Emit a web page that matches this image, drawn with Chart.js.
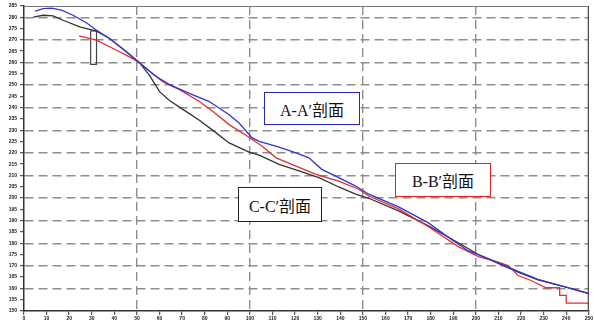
<!DOCTYPE html>
<html>
<head>
<meta charset="utf-8">
<script src="https://cdn.jsdelivr.net/npm/chart.js@4/dist/chart.umd.min.js"></script>
<style>
  html, body { margin: 0; padding: 0; background: #fff; }
  #wrap { position: relative; width: 594px; height: 324px; }
  .tag {
    position: absolute; box-sizing: border-box; background: #fff;
    font-family: "Liberation Serif", "Noto Sans CJK SC", serif;
    font-size: 16px; color: #111; display: flex; align-items: center; justify-content: center;
    white-space: nowrap;
  }
</style>
</head>
<body>
<div id="wrap">
  <canvas id="c" width="594" height="324"></canvas>
  <div class="tag" style="left:264px;top:92px;width:96px;height:33px;border:1.5px solid #2626c8;">A-A′剖面</div>
  <div class="tag" style="left:395px;top:163px;width:96px;height:34px;border:1.5px solid #e02424;">B-B′剖面</div>
  <div class="tag" style="left:238px;top:187px;width:84px;height:35px;border:1.5px solid #222;">C-C′剖面</div>
</div>
<script>
// Profile A-A′: distance along section and ground elevation
const aaDist = [4.9, 8.5, 12.2, 16.6, 21.7, 27.6, 32.1, 37.9, 45.3, 51.1, 57.8, 64.4, 73.2, 82.0, 90.8, 95.2, 101.0, 104.1, 112.9, 120.4, 126.1, 131.8, 139.3, 146.8, 152.6, 165.8, 179.0, 190.0, 196.6, 205.5, 218.7, 227.5, 240.7, 249.9];
const aaElev = [282.7, 283.8, 284.1, 283.2, 280.9, 277.6, 274.3, 270.6, 264.7, 259.9, 254.2, 250.2, 246.3, 242.7, 236.9, 233.2, 226.6, 225.1, 222.5, 220.0, 217.8, 212.7, 209.0, 205.3, 201.7, 196.1, 189.0, 181.1, 176.7, 173.2, 167.5, 164.0, 160.4, 157.8];

// Profile B-B′
const bbDist = [24.4, 32.1, 39.4, 46.7, 51.1, 61.4, 68.8, 77.6, 84.2, 90.8, 99.6, 105.4, 111.6, 120.4, 129.2, 139.3, 148.1, 152.6, 165.8, 179.0, 192.2, 201.1, 209.9, 214.3, 218.7, 224.4, 231.0, 237.1, 237.1, 240.0, 240.0, 249.9];
const bbElev = [271.8, 269.9, 266.2, 262.5, 259.9, 251.5, 248.0, 242.7, 237.9, 232.5, 226.9, 222.9, 217.8, 214.1, 210.5, 207.5, 203.9, 200.9, 195.2, 187.3, 178.5, 174.1, 171.6, 170.1, 165.7, 163.5, 160.3, 160.3, 156.9, 156.9, 153.5, 153.5];

// Profile C-C′
const ccDist = [4.1, 8.5, 12.9, 17.3, 24.7, 32.1, 37.9, 45.3, 51.1, 55.6, 60.0, 64.4, 71.0, 77.6, 84.2, 90.8, 99.6, 104.1, 112.9, 121.7, 130.5, 139.3, 146.8, 152.6, 165.8, 179.0, 192.2, 201.1, 209.9, 218.7, 227.5, 240.7, 249.9];
const ccElev = [280.1, 280.9, 280.6, 278.7, 275.8, 273.9, 270.6, 264.7, 259.9, 254.2, 247.1, 243.2, 238.8, 234.4, 229.5, 224.4, 220.3, 219.0, 214.9, 212.0, 209.0, 204.9, 201.7, 199.9, 194.3, 187.7, 180.2, 175.0, 171.1, 167.2, 163.8, 160.3, 157.7];

// Structure outline on section C-C′
const wallDist = [29.5, 29.5, 32.1, 32.1, 29.5];
const wallElev = [274.0, 259.2, 259.2, 274.0, 274.0];

// Axis ranges and tick steps
const xMin = 0, xMax = 250, xStep = 10;
const yMin = 150, yMax = 285, yStep = 5;

const pts = (xs, ys) => xs.map((x, i) => ({ x: x, y: ys[i] }));

const frame = {
  id: 'frame',
  afterDatasetsDraw(chart) {
    const a = chart.chartArea, ctx = chart.ctx;
    ctx.save();
    ctx.lineWidth = 1.2;
    ctx.strokeStyle = '#777';
    ctx.beginPath(); ctx.moveTo(a.left, a.top + 0.5); ctx.lineTo(a.right, a.top + 0.5); ctx.stroke();
    ctx.strokeStyle = '#444';
    ctx.beginPath(); ctx.moveTo(a.right - 0.5, a.top); ctx.lineTo(a.right - 0.5, a.bottom); ctx.stroke();
    ctx.restore();
  }
};

const gridGray = '#8e8e8e';

new Chart(document.getElementById('c'), {
  type: 'line',
  data: {
    datasets: [
      { label: 'A-A′', data: pts(aaDist, aaElev), borderColor: '#3434d6', borderWidth: 1.3, pointRadius: 0, tension: 0 },
      { label: 'B-B′', data: pts(bbDist, bbElev), borderColor: '#e23030', borderWidth: 1.3, pointRadius: 0, tension: 0 },
      { label: 'C-C′', data: pts(ccDist, ccElev), borderColor: '#333', borderWidth: 1.3, pointRadius: 0, tension: 0 },
      { label: 'wall', data: pts(wallDist, wallElev), borderColor: '#444', borderWidth: 1.2, pointRadius: 0, tension: 0 }
    ]
  },
  options: {
    responsive: false,
    devicePixelRatio: 1,
    animation: false,
    layout: { padding: { top: 4, right: 3, left: 0, bottom: 0 } },
    plugins: { legend: { display: false }, tooltip: { enabled: false } },
    scales: {
      x: {
        type: 'linear', min: xMin, max: xMax,
        ticks: { stepSize: xStep, font: { size: 5, weight: 'bold', family: 'Liberation Sans' }, color: '#222', padding: 1, maxRotation: 0, autoSkip: false },
        grid: {
          color: (c) => (c.tick && c.tick.value % 50 === 0 && c.tick.value > xMin && c.tick.value < xMax) ? gridGray : 'rgba(0,0,0,0)',
          lineWidth: 1.4, tickLength: 4, tickColor: '#333', tickWidth: 1
        },
        border: { color: '#333', width: 1.5, dash: [9, 5] },
        afterFit: (s) => { s.height = 13; }
      },
      y: {
        type: 'linear', min: yMin, max: yMax,
        ticks: { stepSize: yStep, font: { size: 5, weight: 'bold', family: 'Liberation Sans' }, color: '#222', padding: 3, autoSkip: false },
        grid: {
          color: (c) => (c.tick && c.tick.value % 10 === 0 && c.tick.value > yMin && c.tick.value < yMax) ? gridGray : 'rgba(0,0,0,0)',
          lineWidth: 1.4, tickLength: 4, tickColor: '#333', tickWidth: 1
        },
        border: { color: '#333', width: 1.5, dash: [9, 5] },
        afterFit: (s) => { s.width = 24; }
      }
    }
  },
  plugins: [frame]
});
</script>
</body>
</html>
